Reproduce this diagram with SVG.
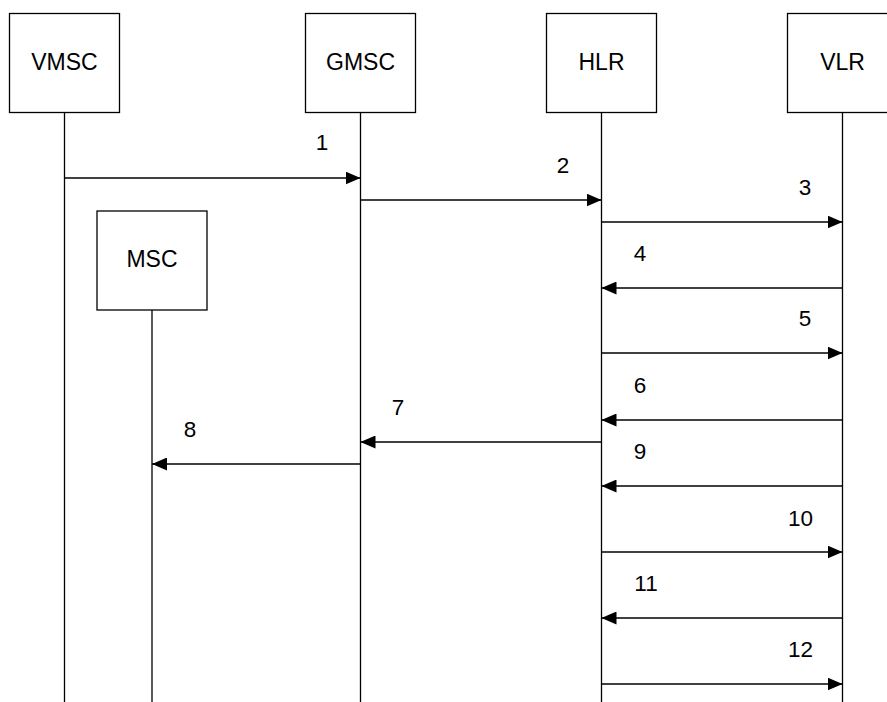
<svg xmlns="http://www.w3.org/2000/svg" width="887" height="702" viewBox="0 0 887 702">
<defs>
<style>
.box{fill:#fff;stroke:#000;stroke-width:1.3}
.life{stroke:#000;stroke-width:1.3;fill:none}
.msg{stroke:#000;stroke-width:1.3;fill:none;marker-end:url(#arr)}
.nl{font-family:"Liberation Sans",Arial,sans-serif;font-size:23px;text-anchor:middle;fill:#000}
.ml{font-family:"Liberation Sans",Arial,sans-serif;font-size:22.5px;text-anchor:middle;fill:#000}
</style>
<marker id="arr" viewBox="0 0 15 13" refX="15" refY="6.5" markerWidth="15" markerHeight="13" markerUnits="userSpaceOnUse" orient="auto">
<path d="M0,0 L15,6.5 L0,13 Z" fill="#000"/>
</marker>
</defs>
<rect width="887" height="702" fill="#fff"/>
<g id="VMSC"><rect class="box" x="9.5" y="13.5" width="110" height="99"/><line class="life" x1="64.5" y1="112.5" x2="64.5" y2="702"/><text class="nl" x="64.5" y="70">VMSC</text></g>
<g id="GMSC"><rect class="box" x="305.5" y="13.5" width="110" height="99"/><line class="life" x1="360.5" y1="112.5" x2="360.5" y2="702"/><text class="nl" x="360.5" y="70">GMSC</text></g>
<g id="HLR"><rect class="box" x="546.5" y="13.5" width="110" height="99"/><line class="life" x1="601.5" y1="112.5" x2="601.5" y2="702"/><text class="nl" x="601.5" y="70">HLR</text></g>
<g id="VLR"><rect class="box" x="787.5" y="13.5" width="110" height="99"/><line class="life" x1="842.5" y1="112.5" x2="842.5" y2="702"/><text class="nl" x="842.5" y="70">VLR</text></g>
<g id="MSC"><rect class="box" x="97" y="211" width="110" height="99"/><line class="life" x1="152" y1="310" x2="152" y2="702"/><text class="nl" x="152" y="267">MSC</text></g>
<g id="connectors">
<line class="msg" x1="64.5" y1="178" x2="360.5" y2="178"/>
<line class="msg" x1="360.5" y1="200" x2="601.5" y2="200"/>
<line class="msg" x1="601.5" y1="222" x2="842.5" y2="222"/>
<line class="msg" x1="842.5" y1="288" x2="601.5" y2="288"/>
<line class="msg" x1="601.5" y1="353" x2="842.5" y2="353"/>
<line class="msg" x1="842.5" y1="420" x2="601.5" y2="420"/>
<line class="msg" x1="601.5" y1="442" x2="360.5" y2="442"/>
<line class="msg" x1="360.5" y1="464" x2="152" y2="464"/>
<line class="msg" x1="842.5" y1="486" x2="601.5" y2="486"/>
<line class="msg" x1="601.5" y1="552" x2="842.5" y2="552"/>
<line class="msg" x1="842.5" y1="618" x2="601.5" y2="618"/>
<line class="msg" x1="601.5" y1="684" x2="842.5" y2="684"/>
</g>
<g id="labels">
<text class="ml" x="322" y="150">1</text>
<text class="ml" x="563" y="173">2</text>
<text class="ml" x="805" y="195">3</text>
<text class="ml" x="640" y="261">4</text>
<text class="ml" x="805" y="326">5</text>
<text class="ml" x="640" y="393">6</text>
<text class="ml" x="398" y="415">7</text>
<text class="ml" x="190" y="437">8</text>
<text class="ml" x="640" y="459">9</text>
<text class="ml" x="800.5" y="526">10</text>
<text class="ml" x="646" y="591">11</text>
<text class="ml" x="800.5" y="657">12</text>
</g>
</svg>
